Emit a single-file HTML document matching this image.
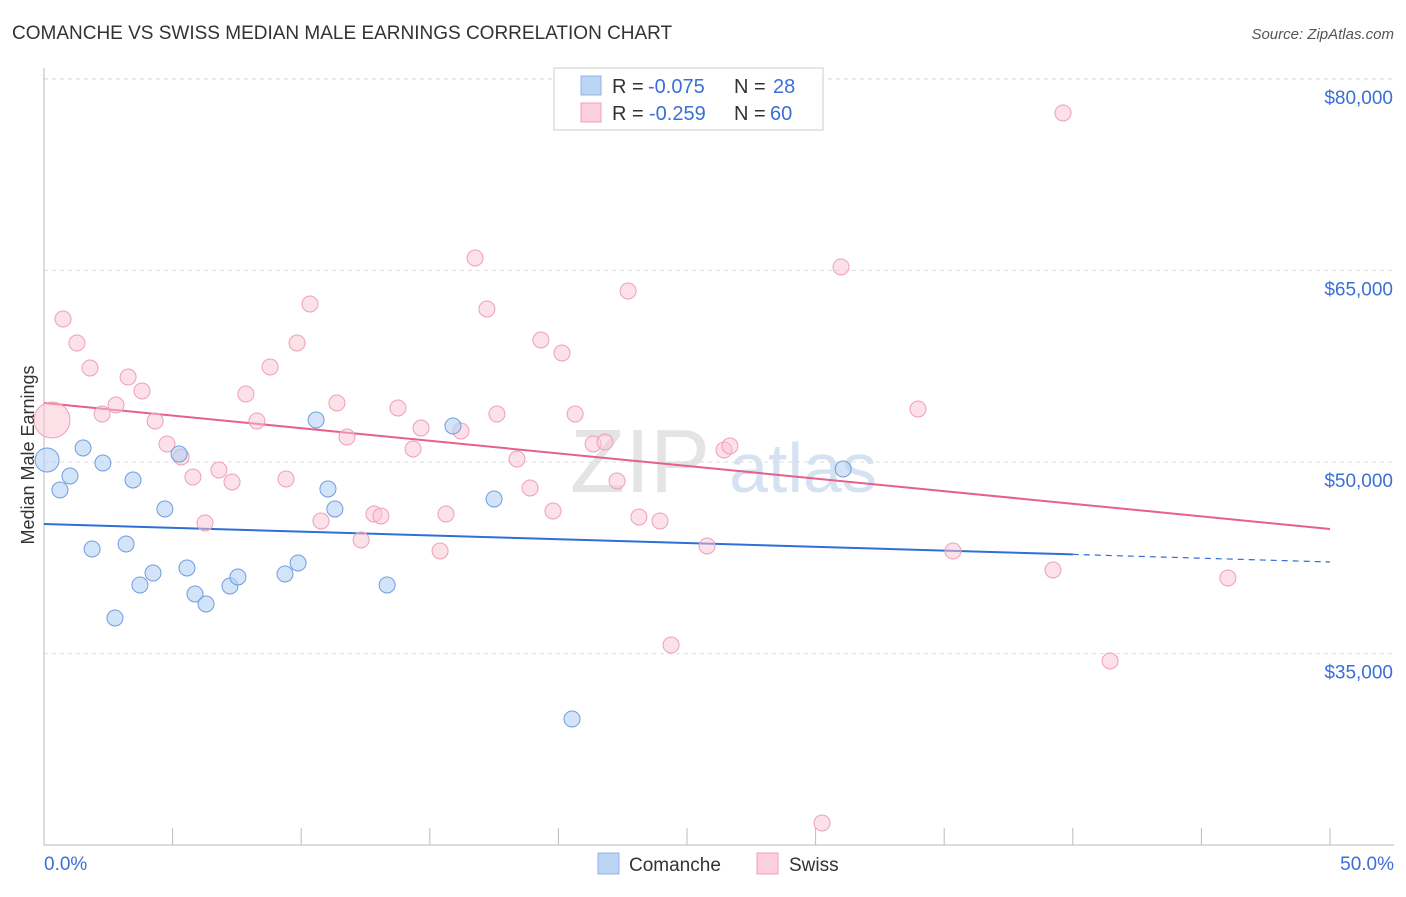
<!DOCTYPE html>
<html><head><meta charset="utf-8">
<style>
body{margin:0;background:#fff;font-family:"Liberation Sans",sans-serif;}
svg text{font-family:"Liberation Sans",sans-serif;}
</style></head>
<body>
<svg id="chart" width="1406" height="892" xmlns="http://www.w3.org/2000/svg">
<text x="12" y="39" font-size="19" fill="#333">COMANCHE VS SWISS MEDIAN MALE EARNINGS CORRELATION CHART</text>
<text x="1394" y="39" font-size="15" fill="#555" font-style="italic" text-anchor="end">Source: ZipAtlas.com</text>
<text x="640" y="492" font-size="90" fill="#e4e4e4" text-anchor="middle" font-family="Liberation Serif">ZIP</text>
<text x="803" y="492" font-size="70" fill="#d6e2f2" text-anchor="middle">atlas</text>
<g id="grid"></g><g id="axes"></g><g id="trend"></g><g id="points"></g>
<text transform="translate(34,455) rotate(-90)" font-size="18" fill="#333" text-anchor="middle">Median Male Earnings</text>
<g>
<rect x="554" y="68" width="269" height="62" fill="#fff" stroke="#ccc"/>
<rect x="581" y="76" width="20" height="19" fill="#bcd5f5" stroke="#8fb4e6"/>
<text x="612" y="93" font-size="20" fill="#333">R =</text>
<text x="648" y="93" font-size="20" fill="#3a6fd8">-0.075</text>
<text x="734" y="93" font-size="20" fill="#333">N =</text>
<text x="773" y="93" font-size="20" fill="#3a6fd8">28</text>
<rect x="581" y="103" width="20" height="19" fill="#fbd0dc" stroke="#f0a0b8"/>
<text x="612" y="120" font-size="20" fill="#333">R =</text>
<text x="649" y="120" font-size="20" fill="#3a6fd8">-0.259</text>
<text x="734" y="120" font-size="20" fill="#333">N =</text>
<text x="770" y="120" font-size="20" fill="#3a6fd8">60</text>
</g>
<g>
<rect x="598" y="853" width="21" height="21" fill="#bcd5f5" stroke="#8fb4e6"/>
<text x="629" y="871" font-size="19" fill="#333">Comanche</text>
<rect x="757" y="853" width="21" height="21" fill="#fbd0dc" stroke="#f0a0b8"/>
<text x="789" y="871" font-size="19" fill="#333">Swiss</text>
</g>
</svg>
<script>
const comancheX=[0.12,0.62,1.01,1.52,1.87,2.29,2.76,3.19,3.46,3.73,4.24,4.70,5.25,5.56,5.87,6.30,7.23,7.54,9.37,9.88,10.58,11.04,11.31,13.34,15.90,17.50,20.53,31.07];
const comancheY=[50157,47808,48904,51096,43190,49922,37788,43581,48591,40372,41311,46321,50626,41702,39667,38884,40293,40998,41233,42094,53288,47886,46321,40372,52818,47104,29882,49452];
const swissX=[0.31,0.74,1.28,1.79,2.26,2.80,3.27,3.81,4.32,4.78,5.33,5.79,6.26,6.80,7.31,7.85,8.28,8.79,9.41,9.84,10.34,10.77,11.39,11.78,12.33,12.83,13.10,13.76,14.35,14.66,15.40,15.63,16.21,16.76,17.22,17.61,18.39,18.90,19.32,19.79,20.14,20.65,21.35,21.81,22.28,22.71,23.13,23.95,24.38,25.78,26.44,26.67,30.25,30.99,33.98,35.34,39.23,39.62,41.45,46.03];
const swissY=[53288,61194,59315,57358,53757,54462,56654,55558,53210,51409,50392,48826,45225,49374,48434,55323,53210,57437,48669,59315,62368,45381,54619,51957,43894,45930,45773,54227,51018,52662,43033,45930,52427,65969,61977,53757,50235,47965,59550,46164,58533,53757,51409,51566,48513,63386,45695,45381,35675,43425,50939,51252,21741,65265,54149,43033,41546,77320,34422,40920];
const yTicks=[35000,50000,65000,80000];
const yTickLabels=["$35,000","$50,000","$65,000","$80,000"];
const comancheTrend=[45147,42172];
const swissTrend=[54619,44757];
const NS="http://www.w3.org/2000/svg";
const X=p=>44+p*25.72;
const Y=v=>462-(v-50000)*0.012775;
function mk(tag,attrs,parent){const e=document.createElementNS(NS,tag);for(const k in attrs)e.setAttribute(k,attrs[k]);parent.appendChild(e);return e;}
const gridG=document.getElementById('grid'),axesG=document.getElementById('axes'),trendG=document.getElementById('trend'),ptsG=document.getElementById('points');
yTicks.forEach((t,i)=>{
 const l=mk('line',{x1:44,x2:1394,y1:Y(t),y2:Y(t),stroke:'#ddd','stroke-dasharray':'4,4'},gridG);
 
 
 const tx=mk('text',{x:1393,y:Y(t)+25,'font-size':19,fill:'#3a6fd8','text-anchor':'end'},gridG);
 tx.textContent=yTickLabels[i];
 
 
});
const topGrid=mk('line',{x1:44,x2:1394,y1:79,y2:79,stroke:'#ddd','stroke-dasharray':'4,4'},gridG);


const ya=mk('line',{x1:44,x2:44,y1:68,y2:845,stroke:'#bbb'},axesG);


const xa=mk('line',{x1:44,x2:1394,y1:845,y2:845,stroke:'#bbb'},axesG);


for(let i=0;i<=10;i++){
 const t=mk('line',{x1:X(i*5),x2:X(i*5),y1:828,y2:845,stroke:'#bbb'},axesG);
 
 
}
const xl0=mk('text',{x:44,y:870,'font-size':19,fill:'#3a6fd8'},axesG);xl0.textContent='0.0%';


const xl1=mk('text',{x:1394,y:870,'font-size':19,fill:'#3a6fd8','text-anchor':'end'},axesG);xl1.textContent='50.0%';


function val(tr,p){return tr[0]+(tr[1]-tr[0])*p/50;}
const b1=mk('line',{x1:X(0),y1:Y(val(comancheTrend,0)),x2:X(40),y2:Y(val(comancheTrend,40)),stroke:'#2f6fd6','stroke-width':2},trendG);


const b2=mk('line',{x1:X(40),y1:Y(val(comancheTrend,40)),x2:X(50),y2:Y(val(comancheTrend,50)),stroke:'#2f6fd6','stroke-width':1.2,'stroke-dasharray':'6,5'},trendG);


const p1=mk('line',{x1:X(0),y1:Y(val(swissTrend,0)),x2:X(50),y2:Y(val(swissTrend,50)),stroke:'#e5608a','stroke-width':2},trendG);


swissX.forEach((x,i)=>{
 const c=mk('circle',{cx:X(x),cy:Y(swissY[i]),r:i===0?18:8,fill:'#f9c4d3','fill-opacity':0.5,stroke:'#eea0b8','stroke-width':1},ptsG);
 
 
});
comancheX.forEach((x,i)=>{
 const c=mk('circle',{cx:X(x),cy:Y(comancheY[i]),r:i===0?12:8,fill:'#b5d0f3','fill-opacity':0.6,stroke:'#6f9ee0','stroke-width':1},ptsG);
 
 
});
</script>
</body></html>
